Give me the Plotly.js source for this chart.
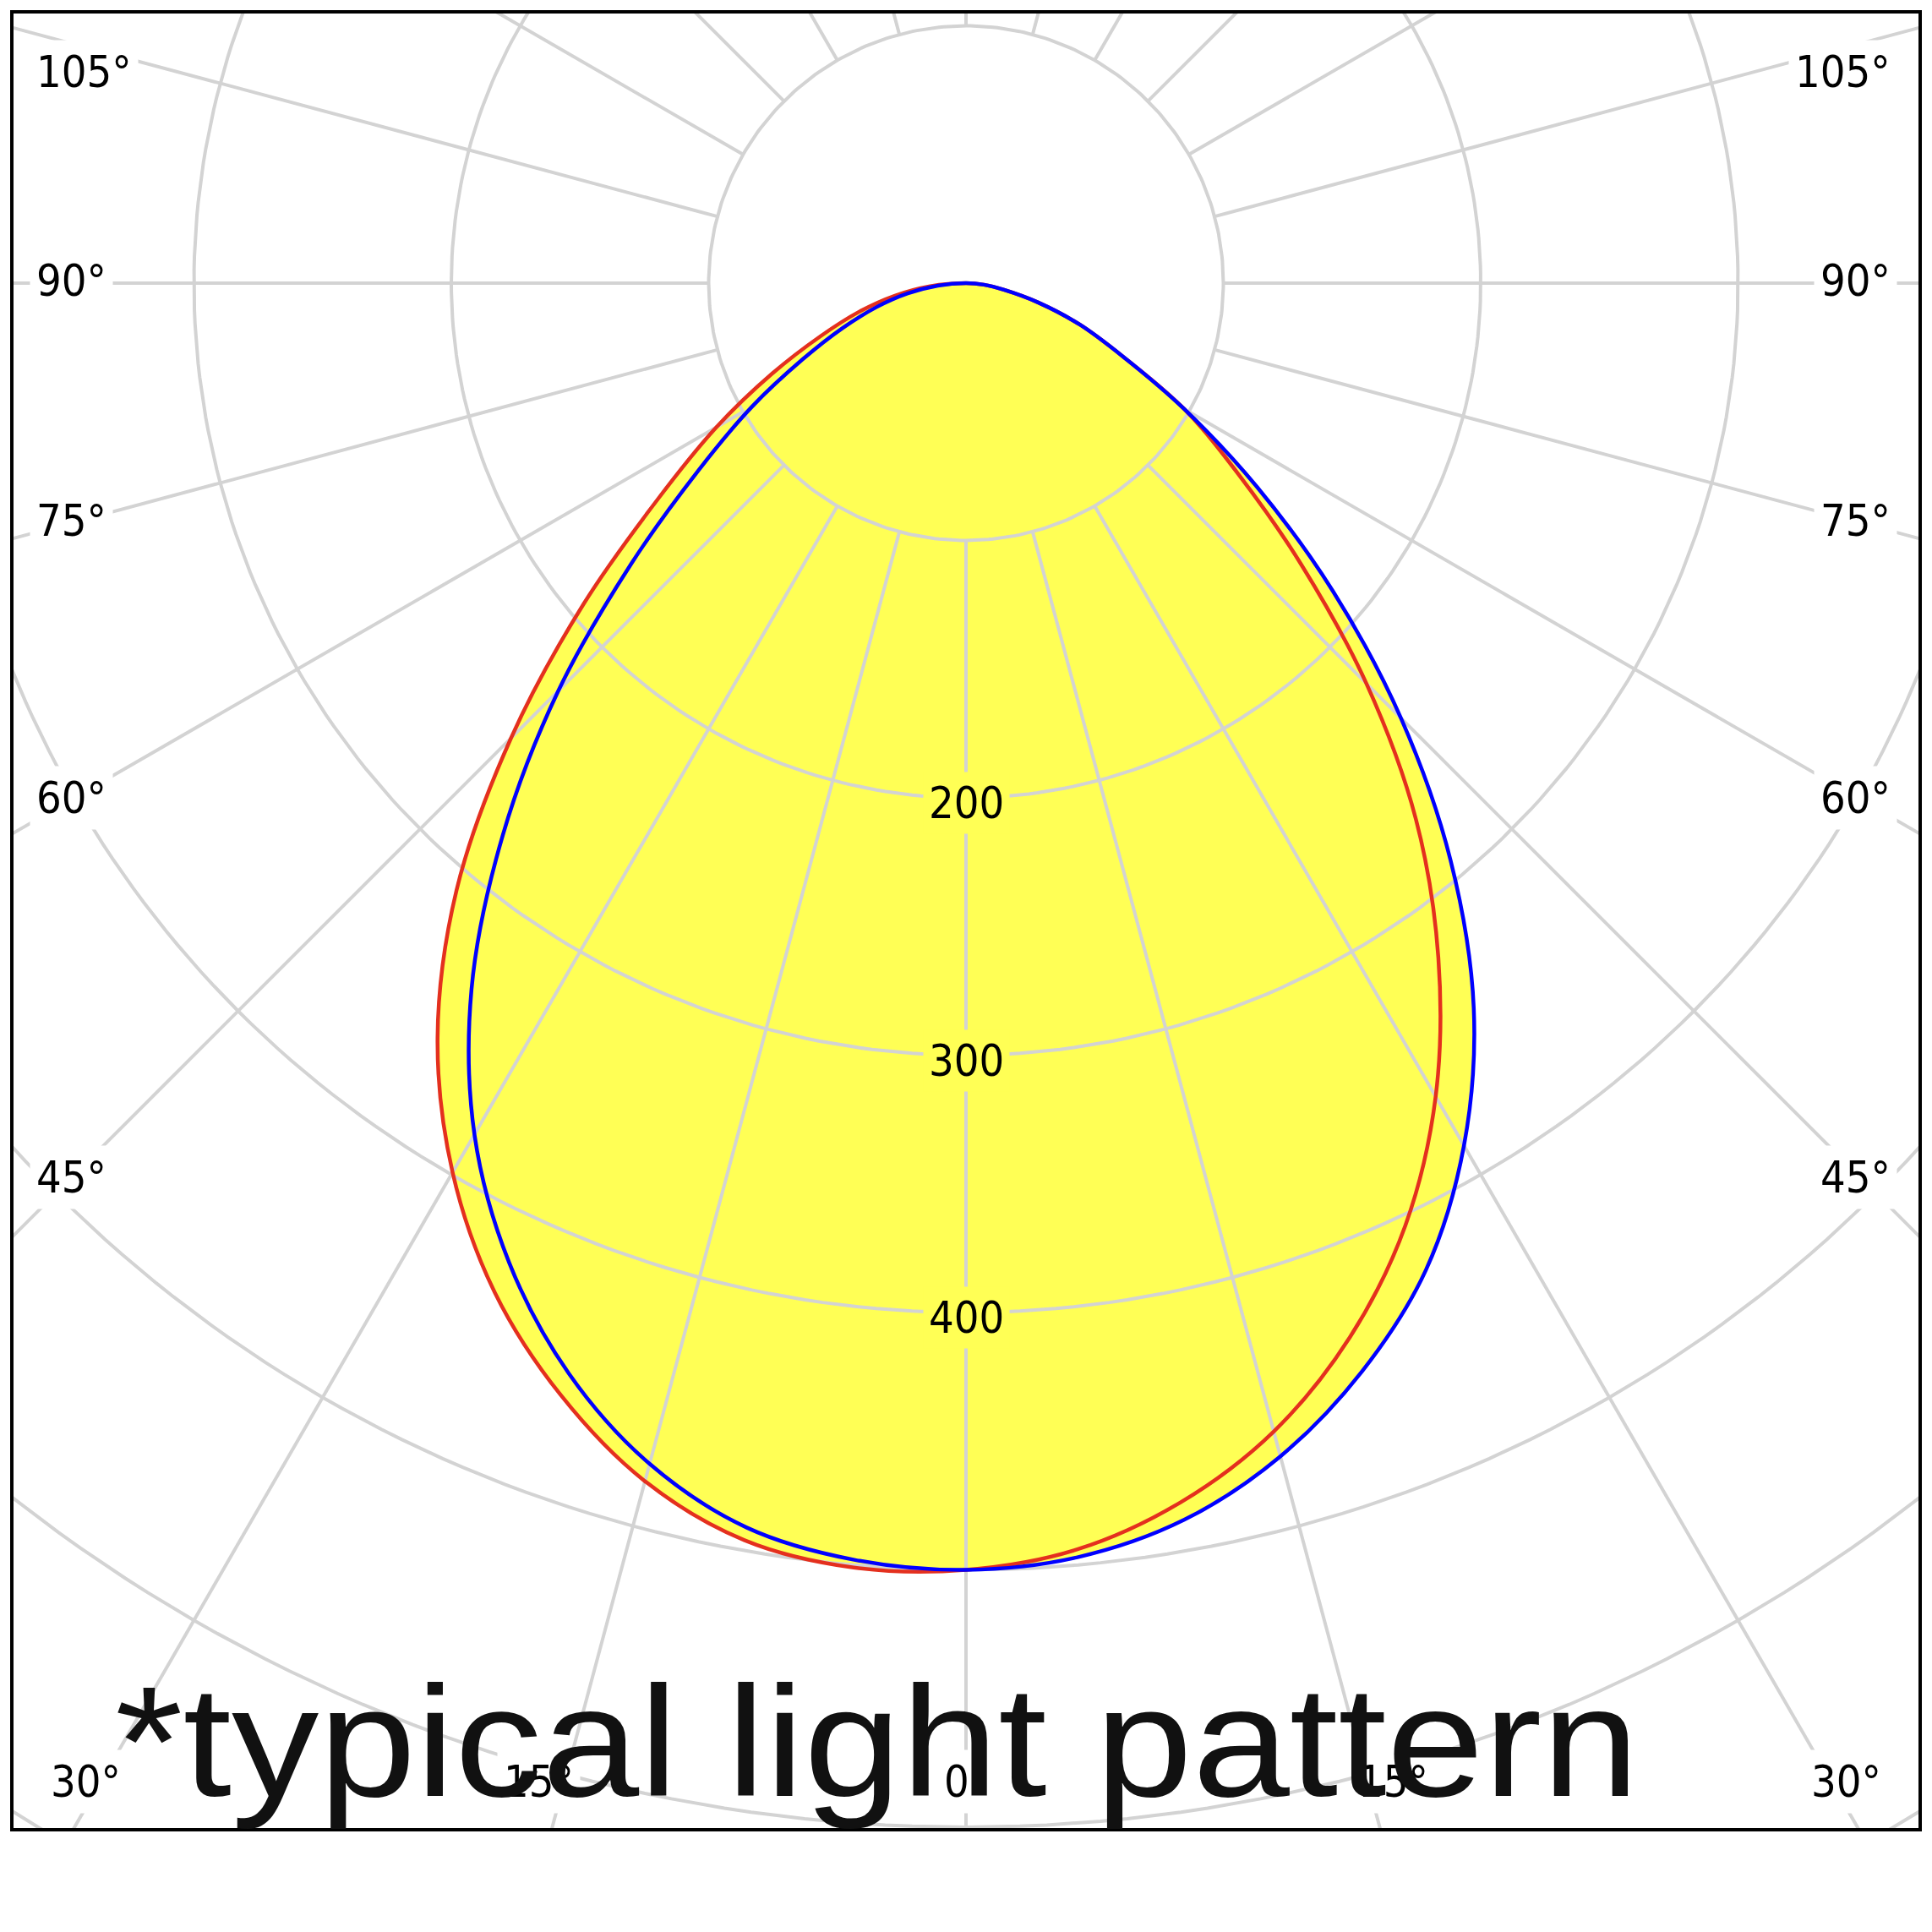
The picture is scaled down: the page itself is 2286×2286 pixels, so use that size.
<!DOCTYPE html>
<html>
<head>
<meta charset="utf-8">
<script src="https://cdn.plot.ly/plotly-3.0.1.min.js"></script>
<style>html,body{margin:0;padding:0;background:#fff;}</style>
</head>
<body>
<div id="chart" style="width:2286px;height:2286px;"></div>
<script>
// ---- DATA (luminous intensity, cd/klm) ----
// gamma angle in degrees: negative = left half of the plane, positive = right half
const gammaDeg = [-90,-85,-80,-75,-70,-65,-60,-55,-50,-45,-40,-35,-30,-25,-20,-15,-10,-5,0,
                  5,10,15,20,25,30,35,40,45,50,55,60,65,70,75,80,85,90];
// C0-C180 plane (red)
const planeC0 = [0,14,28,43,60,83,112,146,194,250,308,358,399,433,460,482,496,501,500,
                 494,481,462,436,404,365,320,272,220,170,129,98,67,47,29,15,7,0];
// C90-C270 plane (blue)
const planeC90 = [0,11,23,36,51,70,96,127,170,224,280,335,382,420,451,475,491,498,500,
                  497,488,472,450,423,387,344,293,239,186,138,98,67,47,29,15,7,0];

// grid definition
const gridRadii = [100,200,300,400,500,600,700];
const radiusLabels = ["200","300","400"];
const radiusLabelValues = [200,300,400];
const spokeAngles = [0,15,30,45,60,75,90,105,120,135,150,165,180,195,210,225,240,255,270,285,300,315,330,345];
const sideLabelAngles = [45,60,75,90,105];
const bottomLabelAngles = [0,15,30];
const footnote = "*typical light pattern";

// ---- geometry helpers ----
const rad = d => d*Math.PI/180;
function toXY(angles, values){
  const x=[], y=[];
  for(let i=0;i<angles.length;i++){
    x.push(values[i]*Math.sin(rad(angles[i])));
    y.push(-values[i]*Math.cos(rad(angles[i])));
  }
  return {x,y};
}

const XR = 370.77, YTOP = 105.42, YBOT = -601.0;
const YELLOW = 'rgb(255,255,85)';
const GRID = '#d3d3d3';

const red = toXY(gammaDeg, planeC0);
const blue = toXY(gammaDeg, planeC90);

// grid circles
const cx=[], cy=[];
gridRadii.forEach(r=>{
  for(let a=0;a<=360;a+=1){ cx.push(r*Math.sin(rad(a))); cy.push(-r*Math.cos(rad(a))); }
  cx.push(null); cy.push(null);
});
// spokes
const sx=[], sy=[];
spokeAngles.forEach(a=>{
  sx.push(gridRadii[0]*Math.sin(rad(a)), 1000*Math.sin(rad(a)), null);
  sy.push(-gridRadii[0]*Math.cos(rad(a)), -1000*Math.cos(rad(a)), null);
});

const traces = [
  {x:red.x, y:red.y, mode:'lines', fill:'toself', fillcolor:YELLOW, line:{width:0, shape:'spline', smoothing:1}, hoverinfo:'skip'},
  {x:blue.x, y:blue.y, mode:'lines', fill:'toself', fillcolor:YELLOW, line:{width:0, shape:'spline', smoothing:1}, hoverinfo:'skip'},
  {x:cx, y:cy, mode:'lines', line:{color:GRID, width:4}, hoverinfo:'skip'},
  {x:sx, y:sy, mode:'lines', line:{color:GRID, width:4}, hoverinfo:'skip'},
  {x:red.x, y:red.y, mode:'lines', line:{color:'rgb(228,48,30)', width:4.5, shape:'spline', smoothing:1}, name:'C0-C180'},
  {x:blue.x, y:blue.y, mode:'lines', line:{color:'rgb(0,0,255)', width:4.5, shape:'spline', smoothing:1}, name:'C90-C270'}
];

const LBLFONT = {family:'DejaVu Sans Condensed, DejaVu Sans, sans-serif', size:52, color:'#000'};
const annotations = [];
// radius labels along 0 deg
radiusLabelValues.forEach((r,i)=>{
  annotations.push({x:0, y:-r-2, xref:'x', yref:'y', text:radiusLabels[i], showarrow:false,
    xanchor:'center', yanchor:'middle', font:LBLFONT, bgcolor:YELLOW, borderpad:6});
});
// side labels (where spokes meet the left/right frame)
const D = 348.4, TOPCLAMP = 81.0;
sideLabelAngles.forEach(a=>{
  let yy = -D*Math.cos(rad(a))/Math.sin(rad(a));
  if (yy > TOPCLAMP) yy = TOPCLAMP;
  annotations.push({x:-364, y:yy, xref:'x', yref:'y', text:a+'°', showarrow:false, yshift:3,
    xanchor:'left', yanchor:'middle', font:LBLFONT, bgcolor:'#fff', borderpad:7});
  annotations.push({x:362, y:yy, xref:'x', yref:'y', text:a+'°', showarrow:false, yshift:3,
    xanchor:'right', yanchor:'middle', font:LBLFONT, bgcolor:'#fff', borderpad:7});
});
// bottom labels
const YB = -582.3, XCLAMP = 342;
bottomLabelAngles.forEach(a=>{
  let xx = -YB*Math.tan(rad(a));
  if (a>0) xx += 10;
  if (xx > XCLAMP) xx = XCLAMP;
  const sides = a===0 ? [1] : [-1,1];
  sides.forEach(s=>{
    annotations.push({x:s*xx, y:YB, xref:'x', yref:'y', text:a+'°', showarrow:false,
      xanchor:'center', yanchor:'middle', font:LBLFONT, bgcolor:'#fff', borderpad:7});
  });
});
// footnote text
annotations.push({x:0.0535, y:0, xref:'paper', yref:'paper', text:footnote, showarrow:false,
  xanchor:'left', yanchor:'bottom', borderpad:0,
  font:{family:'Liberation Sans, Arial, sans-serif', size:186, color:'#111'}});

const layout = {
  width:2286, height:2286,
  margin:{l:14, r:14, t:14, b:121, pad:0},
  paper_bgcolor:'#fff', plot_bgcolor:'#fff',
  showlegend:false,
  xaxis:{range:[-XR, XR], visible:false, fixedrange:true},
  yaxis:{range:[YBOT, YTOP], visible:false, fixedrange:true},
  shapes:[{type:'rect', xref:'paper', yref:'paper', x0:0, x1:1, y0:0, y1:1,
           line:{color:'#000', width:4}, layer:'above'}],
  annotations:annotations
};

Plotly.newPlot('chart', traces, layout, {staticPlot:true, displayModeBar:false}).then(gd=>{
  // the footnote in the reference is set a little wider than the stock font
  const idx = annotations.length-1;
  const t = gd.querySelector('.annotation[data-index="'+idx+'"] .annotation-text');
  if (t) {
    const bb = t.getBBox();
    const x0 = bb.x;
    const prev = t.getAttribute('transform') || '';
    t.setAttribute('transform', prev + ' translate(' + x0 + ',0) scale(1.111,1) translate(' + (-x0) + ',0)');
  }
});
</script>
</body>
</html>
